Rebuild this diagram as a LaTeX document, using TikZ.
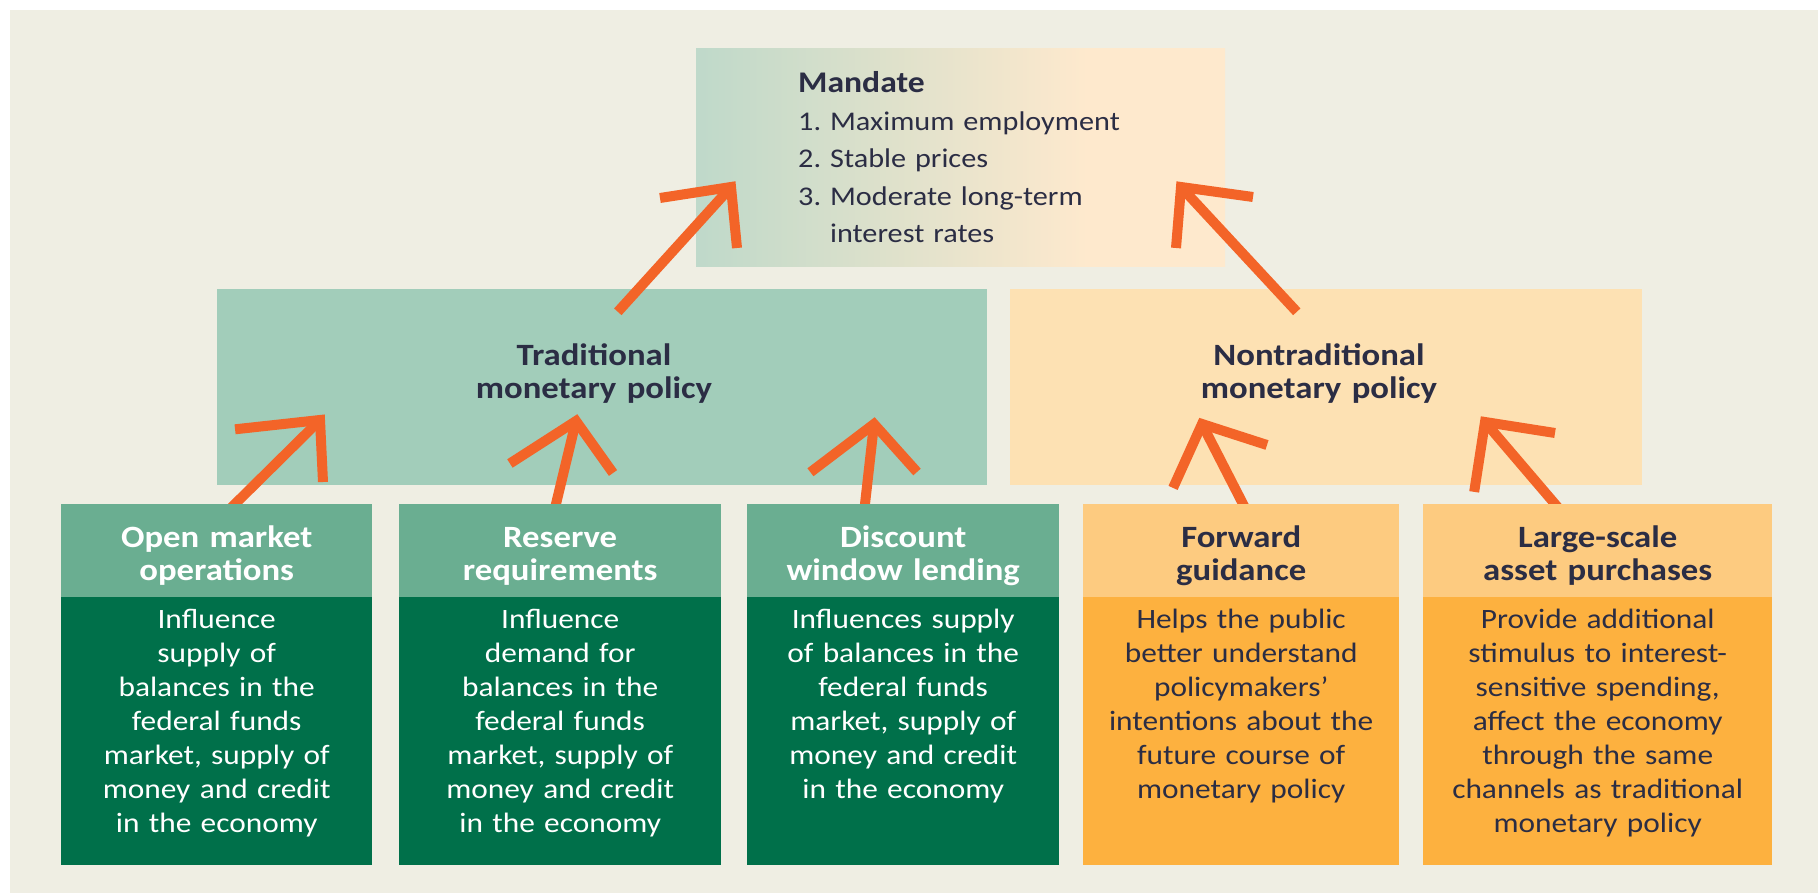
\documentclass[tikz,border=0pt]{standalone}
\usepackage{fontspec}
\setmainfont{Carlito}[FakeStretch=1.12]
\usetikzlibrary{calc}

\definecolor{pagebg}{HTML}{EFEEE3}
\definecolor{mteal}{HTML}{B3D6C9}
\definecolor{mpeach}{HTML}{FEE9CD}
\definecolor{tradfill}{HTML}{A2CDBA}
\definecolor{nontradfill}{HTML}{FDE1B3}
\definecolor{greenhead}{HTML}{6AAE91}
\definecolor{greenbody}{HTML}{00704A}
\definecolor{orangehead}{HTML}{FDCB80}
\definecolor{orangebody}{HTML}{FDB13F}
\definecolor{navy}{HTML}{2B2D44}
\definecolor{arrowred}{HTML}{F36428}

\pgfdeclarehorizontalshading{mandshade}{100bp}{color(0bp)=(mteal); color(18bp)=(mteal); color(62bp)=(mpeach); color(100bp)=(mpeach)}

\pgfdeclarelayer{boxlayer}
\pgfdeclarelayer{arrowlayer}
\pgfsetlayers{boxlayer,arrowlayer,main}

% chevron arrow: tail, tip, offsets of the two barb ends from the tip
\newcommand\chevron[4]{%
  \draw[arrowline] (#1) -- (#2);
  \draw[arrowline] ($(#2)+(#3)$) -- (#2) -- ($(#2)+(#4)$);
}

\begin{document}
\begin{tikzpicture}[x=1pt,y=-1pt,
  panel/.style={rectangle, draw=none, inner sep=0pt},
  arrowline/.style={draw=arrowred, line width=10pt, line cap=butt, line join=miter},
  headtext/.style={inner sep=0pt, align=center, text width=#1, font=\bfseries\fontsize{31}{33}\selectfont},
  bodytext/.style={inner sep=0pt, align=center, text width=#1, font=\fontsize{28}{34}\selectfont},
  tiertext/.style={inner sep=0pt, align=center, text width=400pt, text=navy, font=\bfseries\fontsize{31}{33}\selectfont},
]
\useasboundingbox (0,0) rectangle (1818,893);

\begin{pgfonlayer}{boxlayer}
  \fill[white] (0,0) rectangle (1818,893);
  \fill[pagebg] (10,10) rectangle (1818,893);
  \node[panel, shading=mandshade, minimum width=529pt, minimum height=218pt] (mandate) at (960.5,158) {};
  \node[panel, fill=tradfill, minimum width=770pt, minimum height=196pt] (trad) at (602,387) {};
  \node[panel, fill=nontradfill, minimum width=632pt, minimum height=196pt] (nontrad) at (1326,387) {};
\end{pgfonlayer}

% top mandate text
\node[inner sep=0pt, anchor=base west, align=left, text width=400pt, text=navy, font=\fontsize{27}{37.5}\selectfont]
  (mandtext) at (798,93)
  {{\bfseries\fontsize{30}{37.5}\selectfont Mandate}\\
   1.\ Maximum employment\\
   2.\ Stable prices\\
   3.\ Moderate long-term\\
   \phantom{3.\ }interest rates};

\node[tiertext, anchor=base] (tradtext) at (594,365) {Traditional\\monetary policy};
\node[tiertext, anchor=base] (nontradtext) at (1319,365) {Nontraditional\\monetary policy};

% bottom row of instruments
\node[panel, fill=greenbody, minimum width=311pt, minimum height=361pt, anchor=north west] (b1) at (61,504) {};
\node[panel, fill=greenhead, minimum width=311pt, minimum height=93pt, anchor=north] (b1h) at (b1.north) {};
\node[panel, fill=greenbody, minimum width=322pt, minimum height=361pt, anchor=north west] (b2) at (399,504) {};
\node[panel, fill=greenhead, minimum width=322pt, minimum height=93pt, anchor=north] (b2h) at (b2.north) {};
\node[panel, fill=greenbody, minimum width=312pt, minimum height=361pt, anchor=north west] (b3) at (747,504) {};
\node[panel, fill=greenhead, minimum width=312pt, minimum height=93pt, anchor=north] (b3h) at (b3.north) {};
\node[panel, fill=orangebody, minimum width=316pt, minimum height=361pt, anchor=north west] (b4) at (1083,504) {};
\node[panel, fill=orangehead, minimum width=316pt, minimum height=93pt, anchor=north] (b4h) at (b4.north) {};
\node[panel, fill=orangebody, minimum width=349pt, minimum height=361pt, anchor=north west] (b5) at (1423,504) {};
\node[panel, fill=orangehead, minimum width=349pt, minimum height=93pt, anchor=north] (b5h) at (b5.north) {};

\node[headtext=300pt, text=white, anchor=base] (b1ht) at ($(b1.north)+(0,43)$) {Open market\\operations};
\node[headtext=310pt, text=white, anchor=base] (b2ht) at ($(b2.north)+(0,43)$) {Reserve\\requirements};
\node[headtext=300pt, text=white, anchor=base] (b3ht) at ($(b3.north)+(0,43)$) {Discount\\window lending};
\node[headtext=305pt, text=navy, anchor=base] (b4ht) at ($(b4.north)+(0,43)$) {Forward\\guidance};
\node[headtext=340pt, text=navy, anchor=base] (b5ht) at ($(b5.north)+(0,43)$) {Large-scale\\asset purchases};

\node[bodytext=300pt, text=white, anchor=base] (b1t) at ($(b1.north)+(0,124)$)
  {Influence\\supply of\\balances in the\\federal funds\\market, supply of\\money and credit\\in the economy};
\node[bodytext=310pt, text=white, anchor=base] (b2t) at ($(b2.north)+(0,124)$)
  {Influence\\demand for\\balances in the\\federal funds\\market, supply of\\money and credit\\in the economy};
\node[bodytext=300pt, text=white, anchor=base] (b3t) at ($(b3.north)+(0,124)$)
  {Influences supply\\of balances in the\\federal funds\\market, supply of\\money and credit\\in the economy};
\node[bodytext=305pt, text=navy, anchor=base] (b4t) at ($(b4.north)+(0,124)$)
  {Helps the public\\better understand\\policymakers’\\intentions about the\\future course of\\monetary policy};
\node[bodytext=340pt, text=navy, anchor=base] (b5t) at ($(b5.north)+(0,124)$)
  {Provide additional\\stimulus to interest-\\sensitive spending,\\affect the economy\\through the same\\channels as traditional\\monetary policy};

% arrow end points
\coordinate (tailA) at ($(trad.north west)+(401,23)$);
\coordinate (tipA) at (731,187);
\coordinate (tailB) at ($(nontrad.north west)+(287,23)$);
\coordinate (tipB) at (1181,187);
\coordinate (tail1) at ($(b1.north west)+(174,0)$);
\coordinate (tip1) at (320,420);
\coordinate (tail2) at ($(b2.north west)+(157,0)$);
\coordinate (tip2) at (576,421);
\coordinate (tail3) at ($(b3.north west)+(118,0)$);
\coordinate (tip3) at (874,424);
\coordinate (tail4) at ($(b4.north west)+(160,0)$);
\coordinate (tip4) at (1202,424);
\coordinate (tail5) at ($(b5.north west)+(132,0)$);
\coordinate (tip5) at (1485,422);

\begin{pgfonlayer}{arrowlayer}
  \chevron{tailA}{tipA}{-71,11}{6,61}
  \chevron{tailB}{tipB}{72,10}{-5,61}
\end{pgfonlayer}
\begin{pgfonlayer}{arrowlayer}
  \tikzset{arrowline/.append style={shorten <=-12pt}}
  \chevron{tail1}{tip1}{-73,8}{3,62}
  \chevron{tail2}{tip2}{-56,36}{37,52}
  \chevron{tail3}{tip3}{-54,41}{43,48}
  \chevron{tail4}{tip4}{-24,53}{65,21}
  \chevron{tail5}{tip5}{-9,58}{70,11}
\end{pgfonlayer}
\end{tikzpicture}
\end{document}
